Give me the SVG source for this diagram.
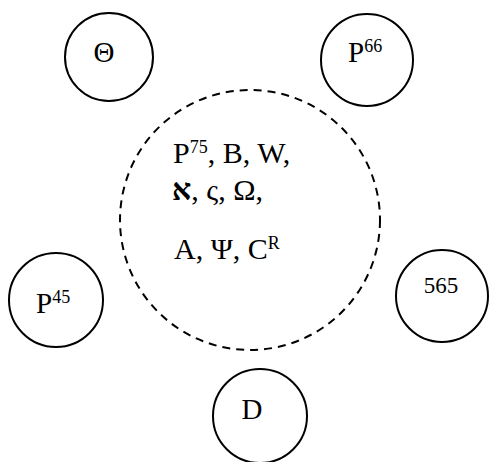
<svg xmlns="http://www.w3.org/2000/svg" width="489" height="462" viewBox="0 0 489 462" font-family="'Liberation Serif', 'Times New Roman', 'DejaVu Serif', serif">
<style>
.n{fill:#fff;stroke:#000;stroke-width:2}
.d{fill:none;stroke:#000;stroke-width:2;stroke-dasharray:8,6}
text{fill:#000;font-size:29px}
.c{font-size:30px}
.s{font-size:18px}
.b{font-weight:bold}
</style>
<rect width="489" height="462" fill="#fff"/>
<g id="center">
<circle class="d" cx="250" cy="220" r="130"/>
<text class="c" x="173" y="163">P<tspan class="s" dy="-10">75</tspan><tspan dy="10">, B, W,</tspan></text>
<text class="c" x="172" y="200"><tspan class="b">א</tspan>, ς, Ω,</text>
<text class="c" x="174" y="259">A, Ψ, C<tspan class="s" dy="-10">R</tspan></text>
</g>
<g id="theta">
<circle class="n" cx="109" cy="57" r="44"/>
<text x="104" y="62" text-anchor="middle">Θ</text>
</g>
<g id="p66">
<circle class="n" cx="367" cy="60" r="46"/>
<text x="348" y="62">P<tspan class="s" dy="-10">66</tspan></text>
</g>
<g id="p45">
<circle class="n" cx="56" cy="300" r="47"/>
<text x="36" y="313">P<tspan class="s" dy="-10">45</tspan></text>
</g>
<g id="n565">
<circle class="n" cx="442" cy="296" r="46"/>
<text x="441" y="293" text-anchor="middle" style="font-size:23px">565</text>
</g>
<g id="d">
<circle class="n" cx="260" cy="416" r="47"/>
<text x="252" y="419" text-anchor="middle">D</text>
</g>
<g id="connectors"></g>
</svg>
